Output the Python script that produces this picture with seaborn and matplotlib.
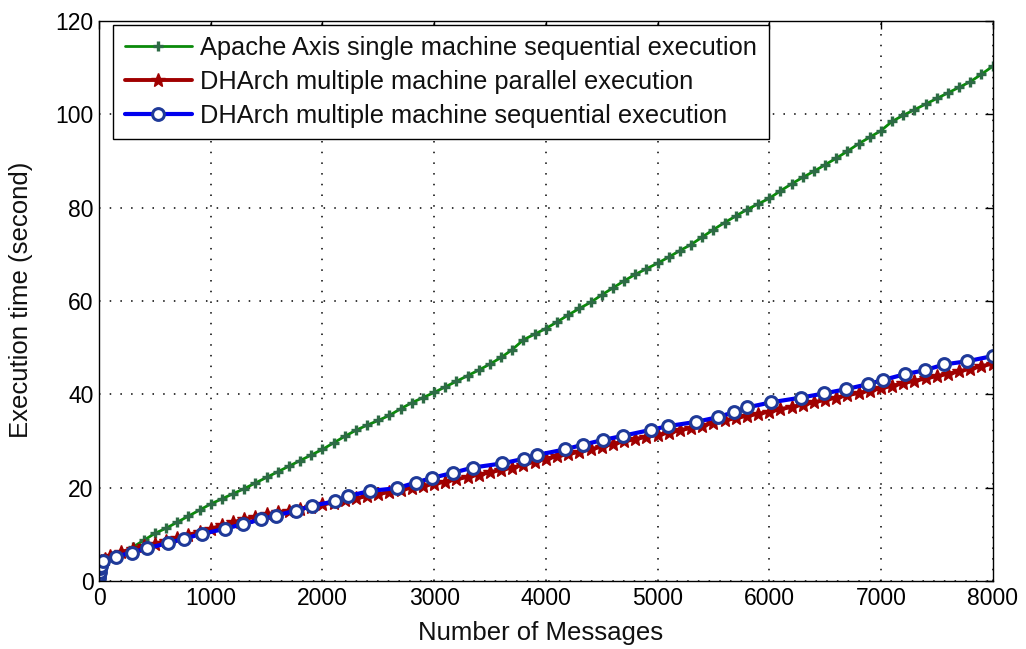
import numpy as np
import pandas as pd
import matplotlib
matplotlib.use("Agg")
import matplotlib.pyplot as plt
import seaborn as sns

# Apache Axis, single machine, sequential execution (every 100 messages)
axis_msgs = [0, 100, 200, 300, 400, 500, 600, 700, 800, 900,
             1000, 1100, 1200, 1300, 1400, 1500, 1600, 1700, 1800, 1900,
             2000, 2100, 2200, 2300, 2400, 2500, 2600, 2700, 2800, 2900,
             3000, 3100, 3200, 3300, 3400, 3500, 3600, 3700, 3800, 3900,
             4000, 4100, 4200, 4300, 4400, 4500, 4600, 4700, 4800, 4900,
             5000, 5100, 5200, 5300, 5400, 5500, 5600, 5700, 5800, 5900,
             6000, 6100, 6200, 6300, 6400, 6500, 6600, 6700, 6800, 6900,
             7000, 7100, 7200, 7300, 7400, 7500, 7600, 7700, 7800, 7900, 8000]
axis_time = [4.1, 5.2, 6.0, 7.2, 8.7, 10.2, 11.3, 12.6, 13.9, 15.2,
             16.5, 17.6, 18.7, 19.8, 21.0, 22.2, 23.4, 24.6, 25.8, 27.0,
             28.2, 29.6, 31.0, 32.3, 33.4, 34.4, 35.5, 36.9, 38.2, 39.3,
             40.4, 41.6, 42.8, 44.0, 45.2, 46.5, 47.9, 49.6, 51.7, 52.9,
             54.1, 55.5, 57.0, 58.4, 59.7, 61.3, 62.8, 64.3, 65.7, 66.9,
             68.1, 69.4, 70.8, 72.1, 73.7, 75.3, 76.8, 78.2, 79.6, 80.8,
             82.0, 83.6, 85.1, 86.5, 87.8, 89.2, 90.6, 92.1, 93.7, 95.1,
             96.5, 98.5, 99.8, 101.0, 102.2, 103.4, 104.6, 105.8, 107.0, 108.6, 110.3]

# DHArch, multiple machines, parallel execution
par_msgs = [1, 2, 5, 10, 20, 50,
            100, 200, 300, 400, 500, 600, 700, 800, 900,
            1000, 1100, 1200, 1300, 1400, 1500, 1600, 1700, 1800, 1900,
            2000, 2100, 2200, 2300, 2400, 2500, 2600, 2700, 2800, 2900,
            3000, 3100, 3200, 3300, 3400, 3500, 3600, 3700, 3800, 3900,
            4000, 4100, 4200, 4300, 4400, 4500, 4600, 4700, 4800, 4900,
            5000, 5100, 5200, 5300, 5400, 5500, 5600, 5700, 5800, 5900,
            6000, 6100, 6200, 6300, 6400, 6500, 6600, 6700, 6800, 6900,
            7000, 7100, 7200, 7300, 7400, 7500, 7600, 7700, 7800, 7900, 8000]
par_time = [1.2, 2.0, 2.8, 3.5, 4.2, 4.8,
            5.4, 6.2, 6.9, 7.5, 8.0, 8.6, 9.2, 9.9, 10.5,
            11.2, 11.9, 12.6, 13.2, 13.8, 14.3, 14.7, 15.1, 15.5, 15.9,
            16.4, 16.8, 17.3, 17.7, 18.2, 18.6, 19.1, 19.5, 20.0, 20.4,
            20.8, 21.3, 21.8, 22.3, 22.8, 23.3, 23.8, 24.3, 24.9, 25.6,
            26.2, 26.7, 27.2, 27.7, 28.2, 28.8, 29.4, 29.9, 30.4, 30.9,
            31.3, 31.8, 32.3, 32.8, 33.3, 33.9, 34.4, 34.9, 35.4, 35.8,
            36.3, 36.8, 37.3, 37.8, 38.3, 38.8, 39.3, 39.8, 40.3, 40.8,
            41.3, 41.8, 42.4, 42.9, 43.4, 43.9, 44.4, 44.9, 45.5, 46.0, 46.6]

# DHArch, multiple machines, sequential execution
seq_msgs = [1, 2, 5, 10, 20, 40,
            149, 293, 427, 615, 764, 925, 1128, 1292, 1450, 1582, 1764, 1910,
            2113, 2232, 2426, 2671, 2835, 2984, 3172, 3345, 3611, 3805, 3919,
            4172, 4330, 4509, 4688, 4942, 5097, 5345, 5539, 5685, 5804,
            6020, 6285, 6493, 6688, 6887, 7022, 7213, 7398, 7565, 7774, 8000]
seq_time = [0.6, 1.2, 2.0, 2.7, 3.3, 4.2,
            5.2, 6.1, 7.0, 8.1, 9.1, 10.1, 11.2, 12.2, 13.2, 14.0, 15.1, 16.1,
            17.1, 18.2, 19.3, 19.9, 21.1, 22.1, 23.2, 24.3, 25.2, 26.2, 27.0,
            28.2, 29.2, 30.2, 31.1, 32.4, 33.2, 34.1, 35.1, 36.2, 37.2,
            38.3, 39.3, 40.2, 41.1, 42.2, 43.1, 44.3, 45.2, 46.4, 47.1, 48.2]

labels = ["Apache Axis single machine sequential execution",
          "DHArch multiple machine parallel execution",
          "DHArch multiple machine sequential execution"]
x_ticks = [0, 1000, 2000, 3000, 4000, 5000, 6000, 7000, 8000]
y_ticks = [0, 20, 40, 60, 80, 100, 120]

sns.set_style("white")
plt.rcParams["font.family"] = ["Liberation Sans", "DejaVu Sans"]
plt.rcParams["font.size"] = 16

fig = plt.figure(figsize=(10.26, 6.49), dpi=100)
ax = fig.add_axes([0.0965, 0.1048, 0.8710, 0.8628])

sns.lineplot(x=axis_msgs, y=axis_time, ax=ax, sort=False, estimator=None,
             color="#0a8a0a", linewidth=2.0, marker="+", markersize=7,
             markeredgewidth=2.4, markeredgecolor="#2d6b45", label=labels[0])
sns.lineplot(x=par_msgs, y=par_time, ax=ax, sort=False, estimator=None,
             color="#a00000", linewidth=2.8, marker="*", markersize=10,
             markeredgewidth=1.0, markeredgecolor="#a00000",
             markerfacecolor="#a00000", label=labels[1])
sns.lineplot(x=seq_msgs, y=seq_time, ax=ax, sort=False, estimator=None,
             color="#0000ee", linewidth=3.0, marker="o", markersize=8.5,
             markeredgewidth=2.2, markeredgecolor="#1f3a99",
             markerfacecolor="white", label=labels[2])

ax.set_xlim(0, 8000)
ax.set_ylim(0, 120)
ax.set_xticks(x_ticks)
ax.set_yticks(y_ticks)
ax.set_xlabel("Number of Messages", fontsize=18.5, color="#111111")
ax.set_ylabel("Execution time (second)", fontsize=18.5, color="#111111")
ax.xaxis.set_label_coords(0.494, -0.072)
ax.yaxis.set_label_coords(-0.074, 0.502)

ax.grid(True, color="black", linestyle=(0, (1, 6)), linewidth=1.1)
ax.tick_params(direction="in", length=6, width=1, top=True, right=True,
               labelsize=16.5, colors="black", pad=4)
for sp in ax.spines.values():
    sp.set_visible(True)
    sp.set_color("black")
    sp.set_linewidth(1.0)

leg = ax.legend(loc="upper left", bbox_to_anchor=(0.016, 0.993),
                borderaxespad=0, fancybox=False, edgecolor="black",
                framealpha=1, fontsize=18.3, handlelength=2.65,
                handletextpad=0.32, labelspacing=0.38, borderpad=0.45)
leg.get_frame().set_linewidth(1.0)
for t in leg.get_texts():
    t.set_color("#111111")

fig.savefig("out.png", dpi=100, facecolor="white")
